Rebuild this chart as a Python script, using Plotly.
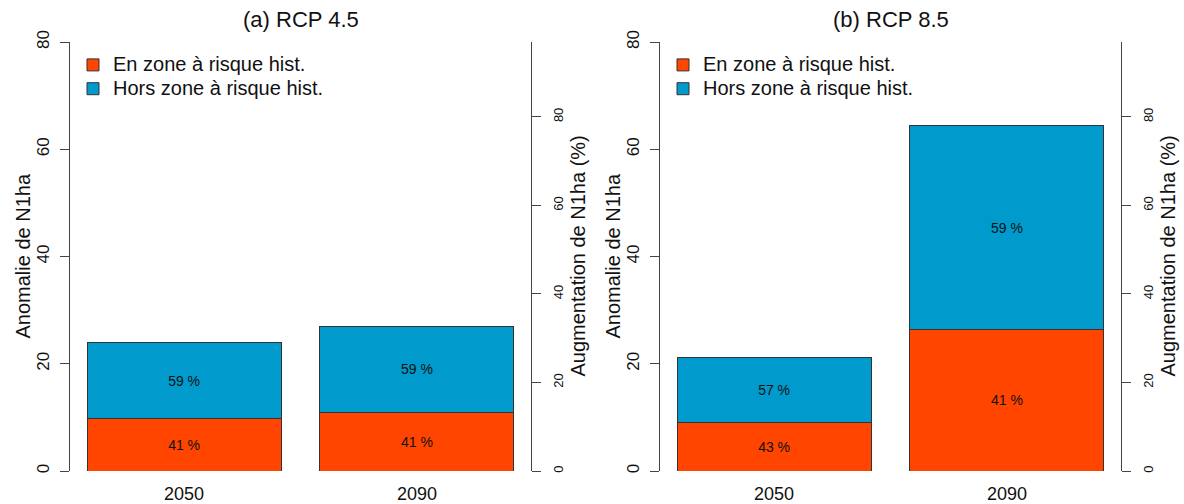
import plotly.graph_objects as go

years = ["2050", "2090"]
series_names = ["En zone à risque hist.", "Hors zone à risque hist."]
panel_titles = ["(a) RCP 4.5", "(b) RCP 8.5"]

rcp45_in = [9.8, 11.0]
rcp45_out = [14.1, 15.9]
rcp45_in_pct = ["41 %", "41 %"]
rcp45_out_pct = ["59 %", "59 %"]

rcp85_in = [9.1, 26.4]
rcp85_out = [12.0, 38.0]
rcp85_in_pct = ["43 %", "41 %"]
rcp85_out_pct = ["57 %", "59 %"]

left_label = "Anomalie de N1ha"
right_label = "Augmentation de N1ha (%)"
left_range = [0, 80]
right_range = [0, 96.9]
tick_vals = [0, 20, 40, 60, 80]

RED = "#FF4500"
BLUE = "#009ACD"
EDGE = "#333333"
AXC = "#444444"
TXT = "#111111"
FONT = "Liberation Sans, Arial, sans-serif"

W, H = 1184, 504
fig = go.Figure()

panels = [
    (rcp45_in, rcp45_out, rcp45_in_pct, rcp45_out_pct, "x", "y", "y2", "legend"),
    (rcp85_in, rcp85_out, rcp85_in_pct, rcp85_out_pct, "x2", "y3", "y4", "legend2"),
]
for vin, vout, pin, pout, xa, ya, ya_r, lg in panels:
    for vals, pct, col, name in [(vin, pin, RED, series_names[0]), (vout, pout, BLUE, series_names[1])]:
        fig.add_trace(go.Bar(
            x=years, y=vals, name="<span style='font-size:20px'>" + name + "</span>",
            text=pct, textposition="inside",
            insidetextanchor="middle", textangle=0,
            textfont=dict(size=14, color=TXT, family=FONT),
            marker=dict(color=col, line=dict(color=EDGE, width=1)),
            xaxis=xa, yaxis=ya, legend=lg, hoverinfo="x+y",
        ))
    # empty helper trace so that the right-hand (percentage) axis is drawn
    fig.add_trace(go.Scatter(x=years, y=[None, None], xaxis=xa, yaxis=ya_r,
                             showlegend=False, hoverinfo="skip", mode="markers"))


def px_x(p):
    return p / W


def px_y(p):
    return 1 - p / H


PA = (70, 531)
PB = (660, 1121)
ydom = [px_y(471), px_y(42)]
xdom_a = [px_x(PA[0]), px_x(PA[1])]
xdom_b = [px_x(PB[0]), px_x(PB[1])]

xcommon = dict(type="category", range=[-0.49, 1.49], showline=False, showgrid=False,
               zeroline=False, ticks="outside", ticklen=4, tickcolor="rgba(0,0,0,0)",
               ticklabelstandoff=2,
               tickfont=dict(size=18, family=FONT, color=TXT), automargin=False)
yleft = dict(range=left_range, domain=ydom, showline=True, linecolor=AXC, linewidth=1,
             showgrid=False, zeroline=False, ticks="outside", ticklen=9, tickcolor=AXC,
             tickvals=tick_vals, tickangle=-90, ticklabelstandoff=4,
             tickfont=dict(size=17, family=FONT, color=TXT), automargin=False)
yright = dict(range=right_range, showline=True, linecolor=AXC, linewidth=1,
              showgrid=False, zeroline=False, ticks="outside", ticklen=9, tickcolor=AXC,
              tickvals=tick_vals, tickangle=-90, side="right", ticklabelstandoff=6,
              tickfont=dict(size=13, family=FONT, color=TXT), automargin=False)

legend_common = dict(font=dict(size=16, family=FONT, color=TXT), bgcolor="rgba(0,0,0,0)",
                     xanchor="left", yanchor="top", tracegroupgap=0, traceorder="normal")

fig.update_layout(
    width=W, height=H,
    margin=dict(l=0, r=0, t=0, b=0),
    paper_bgcolor="white", plot_bgcolor="white",
    barmode="stack", bargap=0.1667,
    font=dict(family=FONT, color=TXT),
    xaxis=dict(domain=xdom_a, anchor="y", **xcommon),
    xaxis2=dict(domain=xdom_b, anchor="y3", **xcommon),
    yaxis=dict(anchor="x", **yleft),
    yaxis2=dict(anchor="x", overlaying="y", **yright),
    yaxis3=dict(anchor="x2", **yleft),
    yaxis4=dict(anchor="x2", overlaying="y3", **yright),
    legend=dict(x=px_x(73), y=px_y(48), **legend_common),
    legend2=dict(x=px_x(663), y=px_y(48), **legend_common),
)

annotations = []
for title, (x0, x1) in zip(panel_titles, [PA, PB]):
    annotations.append(dict(text=title, x=px_x((x0 + x1) / 2), y=px_y(20), xref="paper", yref="paper",
                            showarrow=False, font=dict(size=22, family=FONT, color=TXT),
                            xanchor="center", yanchor="middle"))
for xl, xr in [(22, 577), (612, 1167)]:
    annotations.append(dict(text=left_label, x=px_x(xl), y=px_y(256.5), xref="paper", yref="paper",
                            showarrow=False, textangle=-90, font=dict(size=20, family=FONT, color=TXT),
                            xanchor="center", yanchor="middle"))
    annotations.append(dict(text=right_label, x=px_x(xr), y=px_y(256.5), xref="paper", yref="paper",
                            showarrow=False, textangle=-90, font=dict(size=20, family=FONT, color=TXT),
                            xanchor="center", yanchor="middle"))
fig.update_layout(annotations=annotations)

fig.write_html("out.html", config={"displayModeBar": False},
               post_script="document.body.style.margin='0px';")
